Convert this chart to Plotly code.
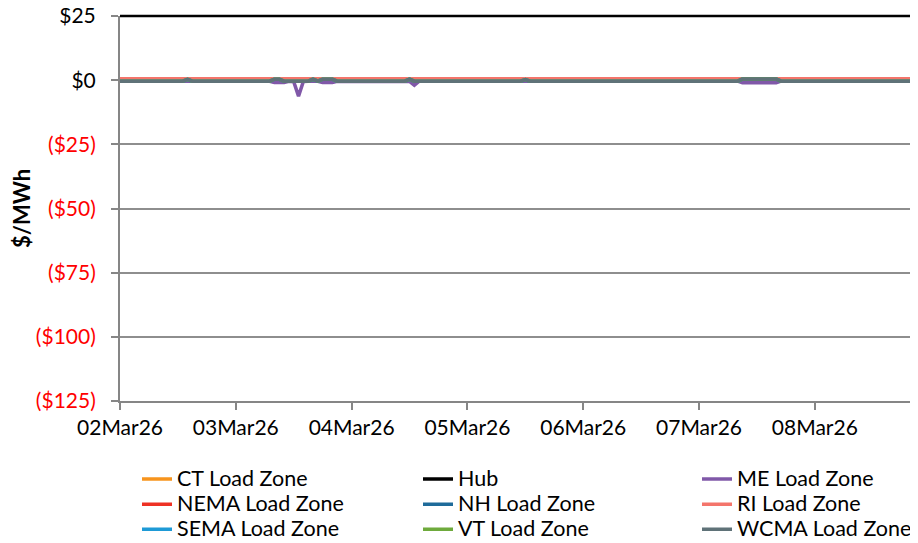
import pandas as pd
import plotly.graph_objects as go

# ---------------- data (hourly, 02Mar26 00:00 .. 08Mar26 23:00) ----------------
hours = pd.date_range("2026-03-02 00:00", periods=168, freq="h")

# overlapping zones (CT, Hub, NH, SEMA, VT, WCMA) read as one trace from the picture
common_zones = (
    [-0.4] * 14 + [0.3] + [-0.4] * 9 +                                   # 02Mar
    [-0.4] * 8 + [0.4, 0.4] + [-0.4] * 6 + [0.4, -0.4, 0.4, 0.4, 0.4] + [-0.4] * 3 +  # 03Mar
    [-0.4] * 12 + [0.4] + [-0.4] * 11 +                                  # 04Mar
    [-0.4] * 12 + [0.2] + [-0.4] * 11 +                                  # 05Mar
    [-0.4] * 24 +                                                        # 06Mar
    [-0.4] * 9 + [0.5] * 8 + [-0.4] * 7 +                                # 07Mar
    [-0.4] * 24                                                          # 08Mar
)
me_zone = (
    [-0.4] * 24 +
    [-0.4] * 8 + [-0.9, -0.9, -0.9, -0.4, -0.6, -6.2, -0.5, -0.4, -0.4, -0.4, -0.9, -0.9, -0.9] + [-0.4] * 3 +
    [-0.4] * 12 + [-0.5, -2.0] + [-0.4] * 10 +
    [-0.4] * 24 +
    [-0.4] * 24 +
    [-0.4] * 9 + [-1.0] * 8 + [-0.4] * 7 +
    [-0.4] * 24
)
nema_zone = [0.5] * 168
ri_zone = [0.6] * 168

series_names = ["CT Load Zone", "Hub", "ME Load Zone",
                "NEMA Load Zone", "NH Load Zone", "RI Load Zone",
                "SEMA Load Zone", "VT Load Zone", "WCMA Load Zone"]
series_values = [common_zones, common_zones, me_zone,
                 nema_zone, common_zones, ri_zone,
                 common_zones, common_zones, common_zones]
series_colors = ["#F7941D", "#000000", "#8058A8",
                 "#EE3124", "#1F6B9A", "#F4756B",
                 "#1E9AD6", "#6EAA3C", "#5F7278"]

y_tickvals = [-125, -100, -75, -50, -25, 0, 25]
y_ticktext = ["<span style='color:#FF0000'>($125)</span>",
              "<span style='color:#FF0000'>($100)</span>",
              "<span style='color:#FF0000'>($75)</span>",
              "<span style='color:#FF0000'>($50)</span>",
              "<span style='color:#FF0000'>($25)</span>",
              "$0", "$25"]

FONT = "Lato, sans-serif"
# the page adds an 8px body margin; the figure overflows the window on the right/bottom
FIG_W, FIG_H = 910, 560
M_L, M_T, M_B = 112, 8, 167
PLOT_W = FIG_W - M_L
PLOT_H = FIG_H - M_T - M_B

legend_ids = ["legend", "legend2", "legend3"]

fig = go.Figure()
for i, (name, vals, col) in enumerate(zip(series_names, series_values, series_colors)):
    fig.add_trace(go.Scatter(x=hours, y=vals, mode="lines",
                             name=f"<span style='font-size:21.5px'>{name}</span>",
                             legend=legend_ids[i % 3],
                             line=dict(color=col, width=3.5)))

# black top border line at $25 (top edge of the plot area)
fig.add_shape(type="line", xref="paper", yref="paper", x0=0, x1=1, y0=1, y1=1,
              line=dict(color="#000000", width=2.5))

legend_top_fig = 453.5
legend_y = -(legend_top_fig - (M_T + PLOT_H)) / PLOT_H
def legend_style(x_fig):
    return dict(orientation="v", x=(x_fig - M_L) / PLOT_W, y=legend_y,
                xanchor="left", yanchor="top",
                traceorder="normal", font=dict(family=FONT, size=17, color="#000000"),
                bgcolor="rgba(0,0,0,0)", itemwidth=30, tracegroupgap=0)

fig.update_layout(
    width=FIG_W, height=FIG_H,
    margin=dict(l=M_L, r=0, t=M_T, b=M_B),
    paper_bgcolor="white", plot_bgcolor="white",
    font=dict(family=FONT, size=21, color="#000000"),
    showlegend=True,
    legend=legend_style(129),
    legend2=legend_style(410),
    legend3=legend_style(689),
    xaxis=dict(type="date", range=["2026-03-02 00:00", "2026-03-08 21:23"],
               tick0="2026-03-02", dtick=86400000, tickformat="%d%b%y",
               showgrid=False, showline=True, linecolor="#868686", linewidth=2,
               ticks="outside", ticklen=7, tickwidth=1.5, tickcolor="#868686",
               tickfont=dict(family=FONT, size=21), zeroline=False,
               automargin=False),
    yaxis=dict(range=[-125, 25], tickvals=y_tickvals, ticktext=y_ticktext,
               showgrid=True, gridcolor="#8E8E8E", gridwidth=1.5,
               showline=True, linecolor="#868686", linewidth=2,
               ticks="outside", ticklen=7, tickwidth=1.5, tickcolor="#868686",
               tickfont=dict(family=FONT, size=21), zeroline=False,
               ticklabelstandoff=11, ticklabeloverflow="allow", automargin=False,
               title=dict(text="<b>$/MWh</b>", standoff=8,
                          font=dict(family=FONT, size=22))),
)

fig.write_html("out.html")
